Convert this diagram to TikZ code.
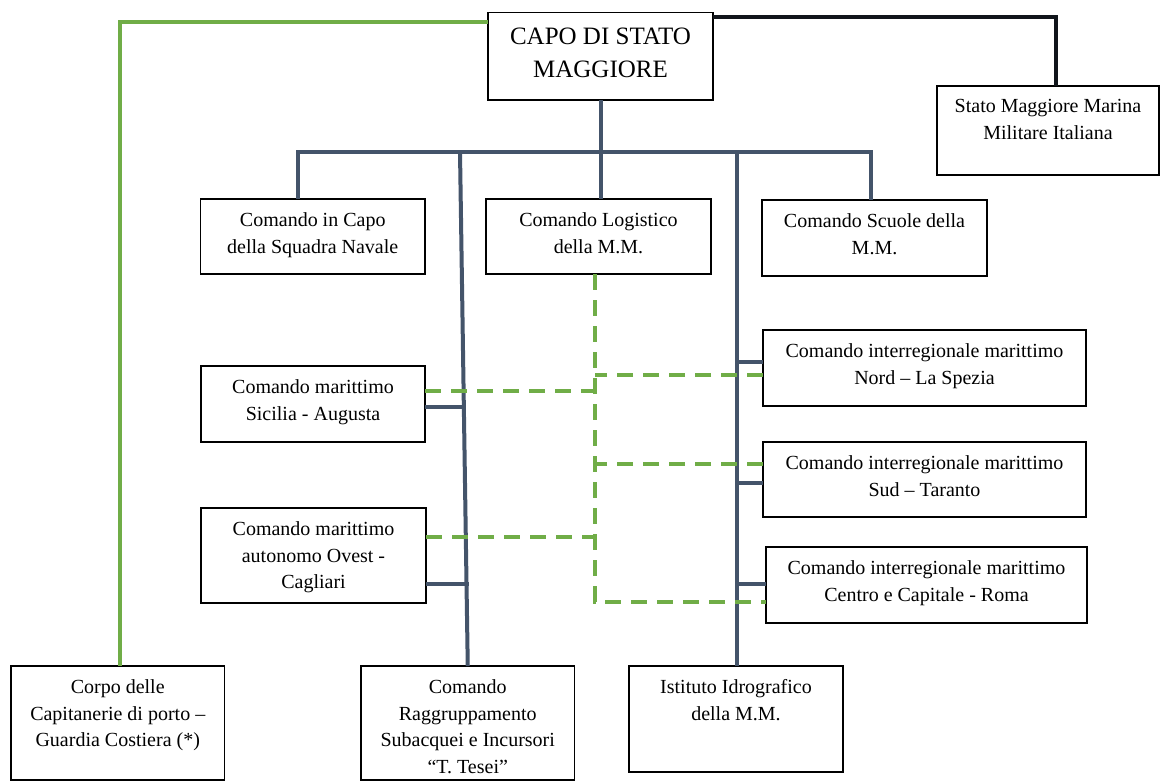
\documentclass[tikz,border=0pt]{standalone}
\usepackage{fontspec}
\setmainfont{Liberation Serif}
\definecolor{slate}{HTML}{44546A}
\definecolor{gline}{HTML}{70AD47}
\tikzset{
  box/.style={draw=black, line width=1.6pt, fill=white, rectangle, inner sep=0pt, outer sep=0pt},
  txt/.style={inner sep=0pt, align=center, font=\fontsize{20}{26.5}\selectfont},
  dline/.style={draw=slate, line width=4pt},
  darkline/.style={draw=black!75!slate, line width=4pt},
  gsolid/.style={draw=gline, line width=4pt},
  gdash/.style={draw=gline, line width=4pt, dash pattern=on 16pt off 10pt}
}
\newcommand{\orgbox}[6]{%
  \node[box, minimum width={(#4)-(#2)}, minimum height={(#5)-(#3)}] (#1) at ({((#2)+(#4))/2},{((#3)+(#5))/2}) {};
  \node[txt, anchor=north] (#1-t) at ([yshift=-13.5pt]#1.north) {#6};
}
\begin{document}
\begin{tikzpicture}[x=1pt, y=-1pt]
\fill[white] (0,0) rectangle (1161,782);
\useasboundingbox (0,0) rectangle (1161,782);

% boxes
\node[box, minimum width=225, minimum height=87.5] (capo) at (600.5,56.25) {};
\node[txt, anchor=north, font=\fontsize{25}{33}\selectfont] (capo-t) at ([yshift=-15pt]capo.north) {CAPO DI STATO\\MAGGIORE};
\orgbox{capin}{200.5}{199}{425}{274}{Comando in Capo\\della Squadra Navale}
\orgbox{logi}{486}{199}{711}{274}{Comando Logistico\\della M.M.}
\orgbox{scuole}{762}{200}{987}{276}{Comando Scuole della\\M.M.}
\orgbox{smm}{937}{86}{1159}{175}{Stato Maggiore Marina\\Militare Italiana}
\orgbox{sicilia}{201}{366}{425}{442}{Comando marittimo\\Sicilia - Augusta}
\orgbox{ovest}{201}{508}{426}{603}{Comando marittimo\\autonomo Ovest -\\Cagliari}
\orgbox{nord}{763}{330}{1086}{406}{Comando interregionale marittimo\\Nord -- La Spezia}
\orgbox{sud}{763}{442}{1086}{517}{Comando interregionale marittimo\\Sud -- Taranto}
\orgbox{centro}{766}{547}{1087}{623}{Comando interregionale marittimo\\Centro e Capitale - Roma}
\orgbox{corpo}{11}{666}{224.5}{780}{Corpo delle\\Capitanerie di porto --\\Guardia Costiera (*)}
\orgbox{ragg}{361}{666}{574.5}{780}{Comando\\Raggruppamento\\Subacquei e Incursori\\“T. Tesei”}
\orgbox{isti}{629}{666}{843}{772}{Istituto Idrografico\\della M.M.}

% coordinates
\coordinate (bar) at (601,152);
\coordinate (vL) at (460,152);
\coordinate (vR) at (737,152);
\coordinate (gtop) at ([xshift=-3.5pt]logi.south);

% dark connectors
\draw[darkline] ([yshift=-4.5pt]capo.north east) -| ([xshift=8pt]smm.north);
\draw[dline] (capo.south) -- (capo.south |- logi.north);
\draw[dline] ([xshift=-15pt]capin.north) |- ([xshift=-3.5pt]scuole.north |- bar) -- ([xshift=-3.5pt]scuole.north);
\draw[dline] (vL) -- (ragg.north);
\draw[dline] (vR) -- (vR |- isti.north);
\draw[dline] ([yshift=-2.7pt]sicilia.east) -- ++(39,0);
\draw[dline] ([yshift=-28.5pt]ovest.east) -- ++(43,0);
\draw[dline] ([yshift=6.3pt]nord.west) -- ++(-26,0);
\draw[dline] ([yshift=-3.2pt]sud.west) -- ++(-26,0);
\draw[dline] ([yshift=0.7pt]centro.west) -- ++(-29,0);

% green connectors
\draw[gsolid] ([yshift=-9.5pt]capo.north west) -| ([xshift=2pt]corpo.north);
\draw[gdash] (gtop) |- ([yshift=-16.7pt]centro.west);
\draw[gdash] ([yshift=13pt]sicilia.east) -- ++(170,0);
\draw[gdash] ([yshift=18.2pt]ovest.east) -- ++(169,0);
\draw[gdash] ([yshift=-7pt]nord.west) -- ++(-168,0);
\draw[gdash] ([yshift=15.2pt]sud.west) -- ++(-168,0);
\end{tikzpicture}
\end{document}
